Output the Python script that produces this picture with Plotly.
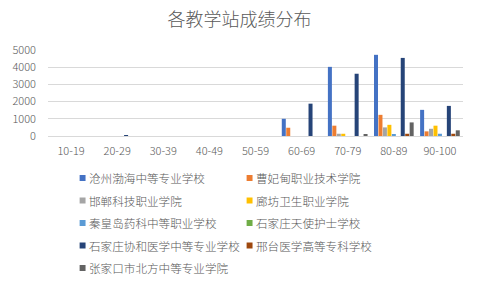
import plotly.graph_objects as go

categories = ["10-19", "20-29", "30-39", "40-49", "50-59", "60-69", "70-79", "80-89", "90-100"]
series_names = [
    "沧州渤海中等专业学校", "曹妃甸职业技术学院", "邯郸科技职业学院", "廊坊卫生职业学院",
    "秦皇岛药科中等职业学校", "石家庄天使护士学校", "石家庄协和医学中等专业学校",
    "邢台医学高等专科学校", "张家口市北方中等专业学院",
]
cangzhou = [0, 0, 0, 0, 0, 1000, 4020, 4720, 1520]
caofeidian = [0, 0, 0, 0, 0, 480, 600, 1230, 270]
handan = [0, 0, 0, 0, 0, 0, 130, 500, 420]
langfang = [0, 0, 0, 0, 0, 0, 130, 650, 600]
qinhuangdao = [0, 0, 0, 0, 0, 0, 0, 80, 130]
tianshi = [0, 0, 0, 0, 0, 0, 0, 0, 0]
xiehe = [0, 40, 0, 0, 0, 1880, 3620, 4540, 1750]
xingtai = [0, 0, 0, 0, 0, 0, 0, 130, 130]
zhangjiakou = [0, 0, 0, 0, 0, 0, 80, 790, 330]
series_values = [cangzhou, caofeidian, handan, langfang, qinhuangdao, tianshi, xiehe, xingtai, zhangjiakou]
colors = ["#4472C4", "#ED7D31", "#A5A5A5", "#FFC000", "#5B9BD5", "#70AD47", "#264478", "#9E480E", "#636363"]

W, H = 479, 287
ML, MR, MT, MB = 43, 16, 50, 151
pw, ph = W - ML - MR, H - MT - MB
FONT = "Noto Sans CJK SC"
TXT = "#595959"

fig = go.Figure()
for name, vals, c in zip(series_names, series_values, colors):
    fig.add_trace(go.Bar(x=categories, y=vals, name=name, marker_color=c,
                         marker_line_width=0, showlegend=False))

def px2x(px):
    return (px - ML) / pw

def py2y(py):
    return (MT + ph - py) / ph

# manual legend (two columns)
col_sq = [75, 244]
col_txt = [83, 252]
row_y = [178, 200.5, 223, 245.5, 268]
shapes = []
annotations = []
for i, (name, c) in enumerate(zip(series_names, colors)):
    r, col = divmod(i, 2)
    y = row_y[r]
    shapes.append(dict(type="rect", xref="paper", yref="paper",
                       x0=px2x(col_sq[col]), x1=px2x(col_sq[col] + 6),
                       y0=py2y(y + 3), y1=py2y(y - 3),
                       fillcolor=c, line_width=0))
    annotations.append(dict(text=name, xref="paper", yref="paper",
                            x=px2x(col_txt[col]), y=py2y(y),
                            xanchor="left", yanchor="middle", showarrow=False,
                            borderpad=0,
                            font=dict(family=FONT, size=11.6, color=TXT, weight=300)))

fig.update_layout(
    width=W, height=H,
    margin=dict(l=ML, r=MR, t=MT, b=MB),
    paper_bgcolor="white", plot_bgcolor="white",
    title=dict(text="各教学站成绩分布", x=0.5, xanchor="center", y=1 - 20 / H, yanchor="middle",
               font=dict(family=FONT, size=18, color=TXT, weight=300)),
    barmode="group", bargap=0.13, bargroupgap=0.1,
    font=dict(family=FONT, size=11, color=TXT),
    shapes=shapes, annotations=annotations,
    showlegend=False,
)
fig.update_yaxes(range=[0, 5000], dtick=1000, showgrid=True, gridcolor="#D9D9D9",
                 zeroline=False, showline=False, ticklabelstandoff=11,
                 tickfont=dict(family=FONT, size=11, color=TXT, weight=300))
fig.update_xaxes(showline=True, linecolor="#D9D9D9", linewidth=1, ticks="",
                 ticklabelstandoff=5, tickfont=dict(family=FONT, size=11, color=TXT, weight=300))

fig.write_html("out.html")
